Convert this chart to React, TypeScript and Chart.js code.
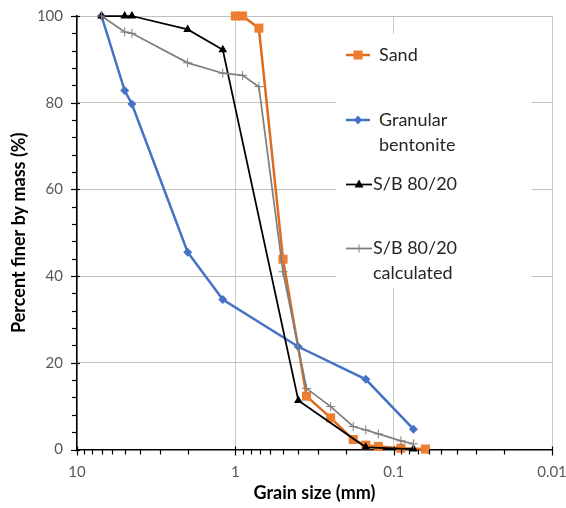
import React, { useEffect, useRef } from 'react';
import { Chart, registerables } from 'chart.js';

Chart.register(...registerables);

// ---- data ----
const sandSize = [1.0, 0.9, 0.71, 0.5, 0.355, 0.25, 0.18, 0.15, 0.125, 0.09, 0.063];
const sandPass = [100, 100, 97.2, 43.9, 12.3, 7.3, 2.3, 1.0, 0.7, 0.3, 0.1];

const bentSize = [7, 5, 4.5, 2, 1.2, 0.4, 0.15, 0.075];
const bentPass = [100, 82.8, 79.7, 45.5, 34.6, 23.7, 16.2, 4.7];

const sbSize = [7, 5, 4.5, 2, 1.2, 0.4, 0.15, 0.075];
const sbPass = [100, 100, 100, 96.9, 92.2, 11.3, 0.5, 0.1];

const calcSize = [7, 5, 4.5, 2, 1.2, 0.9, 0.71, 0.5, 0.355, 0.25, 0.18, 0.15, 0.125, 0.09, 0.075];
const calcPass = [100, 96.3, 96.0, 89.2, 86.8, 86.3, 83.7, 41, 14.1, 9.9, 5.3, 4.5, 3.6, 2.0, 1.3];

const xTickValues = [10, 1, 0.1, 0.01];
const yTickValues = [0, 20, 40, 60, 80, 100];

const seriesNames = ['Sand', 'Granular\nbentonite', 'S/B 80/20', 'S/B 80/20\ncalculated'];
const xTitle = 'Grain size (mm)';
const yTitle = 'Percent finer by mass (%)';

const FONT = 'Lato, "Liberation Sans", sans-serif';
const ORANGE = '#ED7D31';
const ORANGE_LINE = '#DD6C20';
const BLUE = '#4472C4';
const BLACK = '#000000';
const GREY = '#7F7F7F';

const pts = (xs: number[], ys: number[]) => xs.map((x, i) => ({ x, y: ys[i] }));

function marker(ctx: CanvasRenderingContext2D, kind: string, x: number, y: number, color: string) {
  ctx.save();
  ctx.fillStyle = color;
  ctx.strokeStyle = color;
  if (kind === 'rect') {
    ctx.fillRect(x - 4.5, y - 4.5, 9, 9);
  } else if (kind === 'rectRot') {
    ctx.beginPath();
    ctx.moveTo(x, y - 4.5);
    ctx.lineTo(x + 4, y);
    ctx.lineTo(x, y + 4.5);
    ctx.lineTo(x - 4, y);
    ctx.closePath();
    ctx.fill();
  } else if (kind === 'triangle') {
    ctx.beginPath();
    ctx.moveTo(x, y - 5);
    ctx.lineTo(x + 4.5, y + 3);
    ctx.lineTo(x - 4.5, y + 3);
    ctx.closePath();
    ctx.fill();
  } else if (kind === 'cross') {
    ctx.lineWidth = 1;
    ctx.beginPath();
    ctx.moveTo(x, y - 4);
    ctx.lineTo(x, y + 4);
    ctx.stroke();
  }
  ctx.restore();
}

const decorPlugin = {
  id: 'decor',
  beforeDatasetsDraw(chart: any) {
    const ctx = chart.ctx as CanvasRenderingContext2D;
    const ca = chart.chartArea;
    ctx.save();
    ctx.fillStyle = '#ffffff';
    ctx.fillRect(ca.left + 259, ca.top + 18, 196, 254);
    ctx.restore();
  },
  afterDraw(chart: any) {
    const ctx = chart.ctx as CanvasRenderingContext2D;
    const ca = chart.chartArea;
    const xs = chart.scales.x;
    const ys = chart.scales.y;
    ctx.save();
    ctx.strokeStyle = '#000';
    ctx.lineWidth = 1.2;
    // x minor / major ticks
    for (let k = -2; k <= 1; k++) {
      for (let m = 1; m <= 9; m++) {
        const v = m * Math.pow(10, k);
        if (v > 10.0001) continue;
        const px = Math.round(xs.getPixelForValue(v)) + 0.5;
        ctx.beginPath();
        if (m === 1) {
          ctx.moveTo(px, ca.bottom - 3);
          ctx.lineTo(px, ca.bottom + 6);
        } else {
          ctx.moveTo(px, ca.bottom);
          ctx.lineTo(px, ca.bottom + 5);
        }
        ctx.stroke();
      }
    }
    // y minor / major ticks
    for (let v = 0; v <= 100; v += 4) {
      const py = Math.round(ys.getPixelForValue(v)) + 0.5;
      ctx.beginPath();
      if (v % 20 === 0) {
        ctx.moveTo(ca.left - 6, py);
        ctx.lineTo(ca.left + 3, py);
      } else {
        ctx.moveTo(ca.left - 5, py);
        ctx.lineTo(ca.left, py);
      }
      ctx.stroke();
    }
    // titles
    ctx.fillStyle = '#000';
    ctx.font = `bold 18px ${FONT}`;
    ctx.textAlign = 'center';
    ctx.textBaseline = 'middle';
    ctx.fillText(xTitle, (ca.left + ca.right) / 2, 493);
    ctx.save();
    ctx.translate(19, (ca.top + ca.bottom) / 2);
    ctx.rotate(-Math.PI / 2);
    ctx.fillText(yTitle, 0, 0);
    ctx.restore();

    // legend
    const lx = ca.left + 269;
    const items = [
      { name: seriesNames[0], color: ORANGE, line: ORANGE_LINE, kind: 'rect', y: ca.top + 39, x2: lx + 24, tx: lx + 33, lw: 2.5 },
      { name: seriesNames[1], color: BLUE, line: BLUE, kind: 'rectRot', y: ca.top + 104, x2: lx + 24, tx: lx + 33, lw: 2.5 },
      { name: seriesNames[2], color: BLACK, line: BLACK, kind: 'triangle', y: ca.top + 168.5, x2: lx + 26, tx: lx + 27, lw: 1.75 },
      { name: seriesNames[3], color: GREY, line: GREY, kind: 'cross', y: ca.top + 232.5, x2: lx + 26, tx: lx + 27, lw: 1.75 },
    ];
    ctx.font = `18px ${FONT}`;
    ctx.textAlign = 'left';
    for (const it of items) {
      ctx.strokeStyle = it.line;
      ctx.lineWidth = it.lw;
      ctx.beginPath();
      ctx.moveTo(lx, it.y);
      ctx.lineTo(it.x2, it.y);
      ctx.stroke();
      marker(ctx, it.kind, (lx + it.x2) / 2, it.y, it.color);
      ctx.fillStyle = '#262626';
      const lines = it.name.split('\n');
      lines.forEach((t, i) => ctx.fillText(t, it.tx, it.y + i * 25));
    }
    ctx.restore();
  },
};

const zeroPad = (s: any) => {
  s.paddingLeft = 0;
  s.paddingRight = 0;
  s.paddingTop = 0;
  s.paddingBottom = 0;
};

export default function App() {
  const ref = useRef<HTMLCanvasElement | null>(null);
  useEffect(() => {
    if (!ref.current) return;
    const chart = new Chart(ref.current, {
      type: 'line',
      data: {
        datasets: [
          {
            label: 'Sand',
            data: pts(sandSize, sandPass),
            borderColor: ORANGE_LINE,
            borderWidth: 2.5,
            pointStyle: 'rect',
            pointRadius: 6.4,
            pointBackgroundColor: ORANGE,
            pointBorderColor: ORANGE,
            pointBorderWidth: 0,
            clip: false,
            order: 4,
          },
          {
            label: 'Granular bentonite',
            data: pts(bentSize, bentPass),
            borderColor: BLUE,
            borderWidth: 2.5,
            pointStyle: 'rectRot',
            pointRadius: 4.5,
            pointBackgroundColor: BLUE,
            pointBorderColor: BLUE,
            pointBorderWidth: 0,
            clip: false,
            order: 3,
          },
          {
            label: 'S/B 80/20',
            data: pts(sbSize, sbPass),
            borderColor: BLACK,
            borderWidth: 1.75,
            pointStyle: 'triangle',
            pointRadius: 5,
            pointBackgroundColor: BLACK,
            pointBorderColor: BLACK,
            pointBorderWidth: 0,
            clip: false,
            order: 2,
          },
          {
            label: 'S/B 80/20 calculated',
            data: pts(calcSize, calcPass),
            borderColor: GREY,
            borderWidth: 1.75,
            pointStyle: 'cross',
            pointRadius: 4.5,
            pointBackgroundColor: GREY,
            pointBorderColor: GREY,
            pointBorderWidth: 1,
            clip: false,
            order: 1,
          },
        ],
      },
      options: {
        animation: false,
        responsive: false,
        layout: { padding: { left: 0, top: 16, right: 14, bottom: 0 } },
        elements: { line: { tension: 0 } },
        plugins: { legend: { display: false }, tooltip: { enabled: false } },
        scales: {
          x: {
            type: 'logarithmic',
            reverse: true,
            min: 0.01,
            max: 10,
            afterBuildTicks: (s: any) => {
              s.ticks = xTickValues.map((v) => ({ value: v }));
            },
            afterFit: (s: any) => {
              s.height = 58.5;
              zeroPad(s);
            },
            ticks: {
              autoSkip: false,
              maxRotation: 0,
              padding: 14,
              color: '#595959',
              font: { family: FONT, size: 15 },
              callback: (v: any) => String(v),
            },
            grid: { color: '#C8C8C8', lineWidth: 1, drawTicks: false },
            border: { display: true, color: '#000', width: 1.5 },
          },
          y: {
            type: 'linear',
            min: 0,
            max: 100,
            afterBuildTicks: (s: any) => {
              s.ticks = yTickValues.map((v) => ({ value: v }));
            },
            afterFit: (s: any) => {
              s.width = 77;
              zeroPad(s);
            },
            ticks: {
              padding: 14,
              color: '#595959',
              font: { family: FONT, size: 15 },
            },
            grid: { color: '#C0C0C0', lineWidth: 1, drawTicks: false },
            border: { display: true, color: '#000', width: 1.5 },
          },
        },
      },
      plugins: [decorPlugin],
    } as any);
    return () => chart.destroy();
  }, []);
  return (
    <div style={{ position: 'absolute', left: 0, top: 0, width: 566, height: 508, background: '#fff' }}>
      <canvas ref={ref} width={566} height={508} />
    </div>
  );
}
